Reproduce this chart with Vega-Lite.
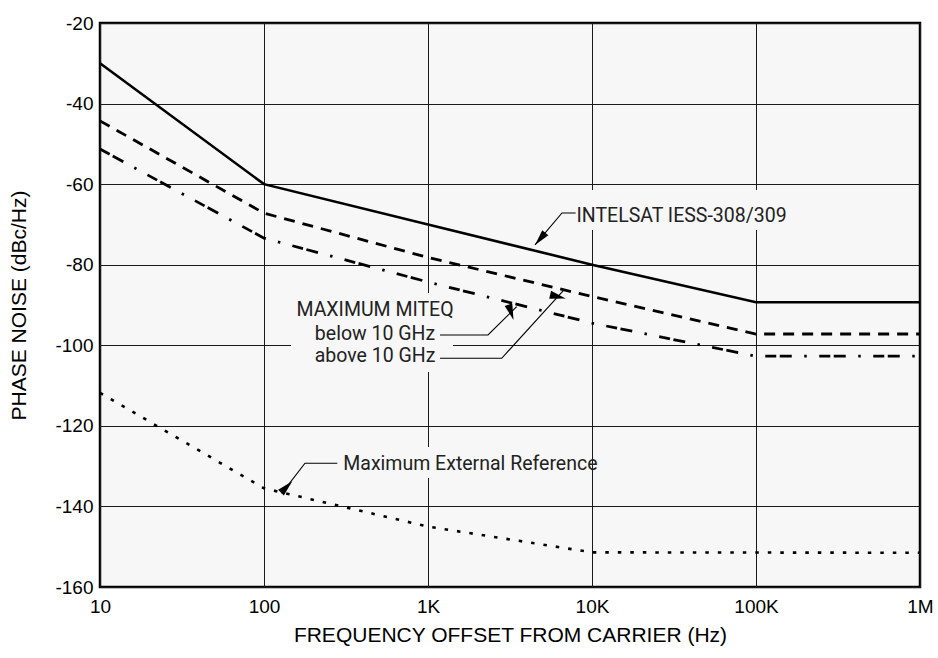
{
  "$schema": "https://vega.github.io/schema/vega-lite/v6.json",
  "width": 820,
  "height": 564,
  "autosize": "none",
  "padding": {"left": 100, "top": 23, "right": 18, "bottom": 71},
  "background": "#ffffff",
  "config": {
    "view": {"fill": "#f7f7f7", "stroke": "#000000", "strokeWidth": 2.5},
    "axis": {
      "domain": false, "ticks": false, "grid": true,
      "gridColor": "#1a1a1a", "gridWidth": 1, "gridOpacity": 1,
      "labelFont": "Liberation Sans", "labelFontSize": 19, "labelColor": "#000000",
      "titleFont": "Liberation Sans", "titleFontSize": 21, "titleFontWeight": "normal", "titleColor": "#000000"
    }
  },
  "datasets": {
    "lines": [
      {"series": "INTELSAT", "f": 10, "pn": -30},
      {"series": "INTELSAT", "f": 100, "pn": -60},
      {"series": "INTELSAT", "f": 1000, "pn": -70},
      {"series": "INTELSAT", "f": 10000, "pn": -80},
      {"series": "INTELSAT", "f": 100000, "pn": -89.3},
      {"series": "INTELSAT", "f": 1000000, "pn": -89.3},
      {"series": "dashed", "f": 10, "pn": -44.3},
      {"series": "dashed", "f": 100, "pn": -67.2},
      {"series": "dashed", "f": 1000, "pn": -78.2},
      {"series": "dashed", "f": 10000, "pn": -87.9},
      {"series": "dashed", "f": 100000, "pn": -97.2},
      {"series": "dashed", "f": 1000000, "pn": -97.2},
      {"series": "dashdot", "f": 10, "pn": -51.3},
      {"series": "dashdot", "f": 100, "pn": -73.4},
      {"series": "dashdot", "f": 1000, "pn": -84.3},
      {"series": "dashdot", "f": 10000, "pn": -94.5},
      {"series": "dashdot", "f": 100000, "pn": -102.7},
      {"series": "dashdot", "f": 1000000, "pn": -102.7},
      {"series": "dotted", "f": 10, "pn": -111.8},
      {"series": "dotted", "f": 100, "pn": -135.5},
      {"series": "dotted", "f": 1000, "pn": -145},
      {"series": "dotted", "f": 10000, "pn": -151.4},
      {"series": "dotted", "f": 1000000, "pn": -151.5}
    ],
    "boxes": [
      {"x1": 7345, "x2": 161100, "y1": -61.45, "y2": -71.38},
      {"x1": 146.1, "x2": 1420, "y1": -87.02, "y2": -106.63},
      {"x1": 271, "x2": 9723, "y1": -125.25, "y2": -132.94}
    ],
    "leaders": [
      {"id": "intelsat", "k": 1, "f": 7950, "pn": -67.16},
      {"id": "intelsat", "k": 2, "f": 6561, "pn": -67.16},
      {"id": "intelsat", "k": 3, "f": 4491, "pn": -75.1},
      {"id": "below", "k": 1, "f": 1184, "pn": -97.45},
      {"id": "below", "k": 2, "f": 2322, "pn": -97.45},
      {"id": "below", "k": 3, "f": 3474, "pn": -90.42},
      {"id": "above", "k": 1, "f": 1184, "pn": -103.23},
      {"id": "above", "k": 2, "f": 2814, "pn": -103.23},
      {"id": "above", "k": 3, "f": 6683, "pn": -86.45},
      {"id": "ext", "k": 1, "f": 279.9, "pn": -129.29},
      {"id": "ext", "k": 2, "f": 177.8, "pn": -129.29},
      {"id": "ext", "k": 3, "f": 128.2, "pn": -136.74}
    ],
    "arrows": [
      {"id": "intelsat", "f": 4830, "pn": -73.59},
      {"id": "below", "f": 3207, "pn": -91.81},
      {"id": "above", "f": 6196, "pn": -87.91},
      {"id": "ext", "f": 137.4, "pn": -135.18}
    ],
    "labels": [
      {"text": "INTELSAT IESS-308/309", "anchor": "left", "f": 8050, "pn": -68.0},
      {"text": "Maximum External Reference", "anchor": "left", "f": 304.4, "pn": -129.4},
      {"text": "MAXIMUM MITEQ", "anchor": "center", "f": 475.2, "pn": -91.3},
      {"text": "below 10 GHz", "anchor": "center", "f": 475.2, "pn": -97.1},
      {"text": "above 10 GHz", "anchor": "center", "f": 475.2, "pn": -102.7}
    ]
  },
  "layer": [
    {
      "data": {"name": "boxes"},
      "mark": {"type": "rect", "fill": "#f7f7f7", "stroke": null},
      "encoding": {
        "x": {"field": "x1", "type": "quantitative", "scale": {"type": "log", "domain": [10, 1000000], "nice": false},
              "axis": {"values": [10, 100, 1000, 10000, 100000, 1000000], "labelFlush": false, "labelExpr": "datum.value >= 1000000 ? '1M' : datum.value >= 1000 ? format(datum.value / 1000, 'd') + 'K' : format(datum.value, 'd')", "labelPadding": 10, "titlePadding": 8, "title": "FREQUENCY OFFSET FROM CARRIER (Hz)"}},
        "x2": {"field": "x2"},
        "y": {"field": "y1", "type": "quantitative", "scale": {"domain": [-160, -20], "nice": false, "zero": false},
              "axis": {"values": [-160, -140, -120, -100, -80, -60, -40, -20], "labelFlush": false, "labelExpr": "datum.value + ''", "labelPadding": 7, "titlePadding": 25, "title": "PHASE NOISE (dBc/Hz)"}},
        "y2": {"field": "y2"}
      }
    },
    {
      "data": {"name": "lines"},
      "transform": [{"filter": "datum.series === 'INTELSAT'"}],
      "mark": {"type": "line", "color": "#000000", "strokeWidth": 2.6},
      "encoding": {"x": {"field": "f", "type": "quantitative"}, "y": {"field": "pn", "type": "quantitative"}}
    },
    {
      "data": {"name": "lines"},
      "transform": [{"filter": "datum.series === 'dashed'"}],
      "mark": {"type": "line", "color": "#000000", "strokeWidth": 2.8, "strokeDash": [11, 8], "strokeCap": "butt"},
      "encoding": {"x": {"field": "f", "type": "quantitative"}, "y": {"field": "pn", "type": "quantitative"}}
    },
    {
      "data": {"name": "lines"},
      "transform": [{"filter": "datum.series === 'dashdot'"}],
      "mark": {"type": "line", "color": "#000000", "strokeWidth": 2.8, "strokeDash": [11, 3.5, 12, 12.5, 2.5, 12.5], "strokeCap": "butt"},
      "encoding": {"x": {"field": "f", "type": "quantitative"}, "y": {"field": "pn", "type": "quantitative"}}
    },
    {
      "data": {"name": "lines"},
      "transform": [{"filter": "datum.series === 'dotted'"}],
      "mark": {"type": "line", "color": "#000000", "strokeWidth": 2.6, "strokeDash": [3.5, 9], "strokeCap": "butt"},
      "encoding": {"x": {"field": "f", "type": "quantitative"}, "y": {"field": "pn", "type": "quantitative"}}
    },
    {
      "data": {"name": "leaders"},
      "mark": {"type": "line", "color": "#000000", "strokeWidth": 1.1},
      "encoding": {
        "x": {"field": "f", "type": "quantitative"},
        "y": {"field": "pn", "type": "quantitative"},
        "detail": {"field": "id"},
        "order": {"field": "k", "type": "quantitative"}
      }
    },
    {
      "data": {"name": "arrows"},
      "mark": {"type": "point", "shape": "M0,-1L0.5,1L-0.5,1Z", "filled": true, "color": "#000000", "size": 256, "opacity": 1},
      "encoding": {
        "x": {"field": "f", "type": "quantitative"},
        "y": {"field": "pn", "type": "quantitative"},
        "angle": {"field": "id", "type": "nominal", "scale": {"domain": ["intelsat", "below", "above", "ext"], "range": [220, 45, 42, 218]}, "legend": null}
      }
    },
    {
      "data": {"name": "labels"},
      "transform": [{"filter": "datum.anchor === 'left'"}],
      "mark": {"type": "text", "align": "left", "baseline": "middle", "font": "Roboto", "fontSize": 19.5, "color": "#222222"},
      "encoding": {"x": {"field": "f", "type": "quantitative"}, "y": {"field": "pn", "type": "quantitative"}, "text": {"field": "text"}}
    },
    {
      "data": {"name": "labels"},
      "transform": [{"filter": "datum.anchor === 'center'"}],
      "mark": {"type": "text", "align": "center", "baseline": "middle", "font": "Roboto", "fontSize": 19.5, "color": "#222222"},
      "encoding": {"x": {"field": "f", "type": "quantitative"}, "y": {"field": "pn", "type": "quantitative"}, "text": {"field": "text"}}
    }
  ]
}
